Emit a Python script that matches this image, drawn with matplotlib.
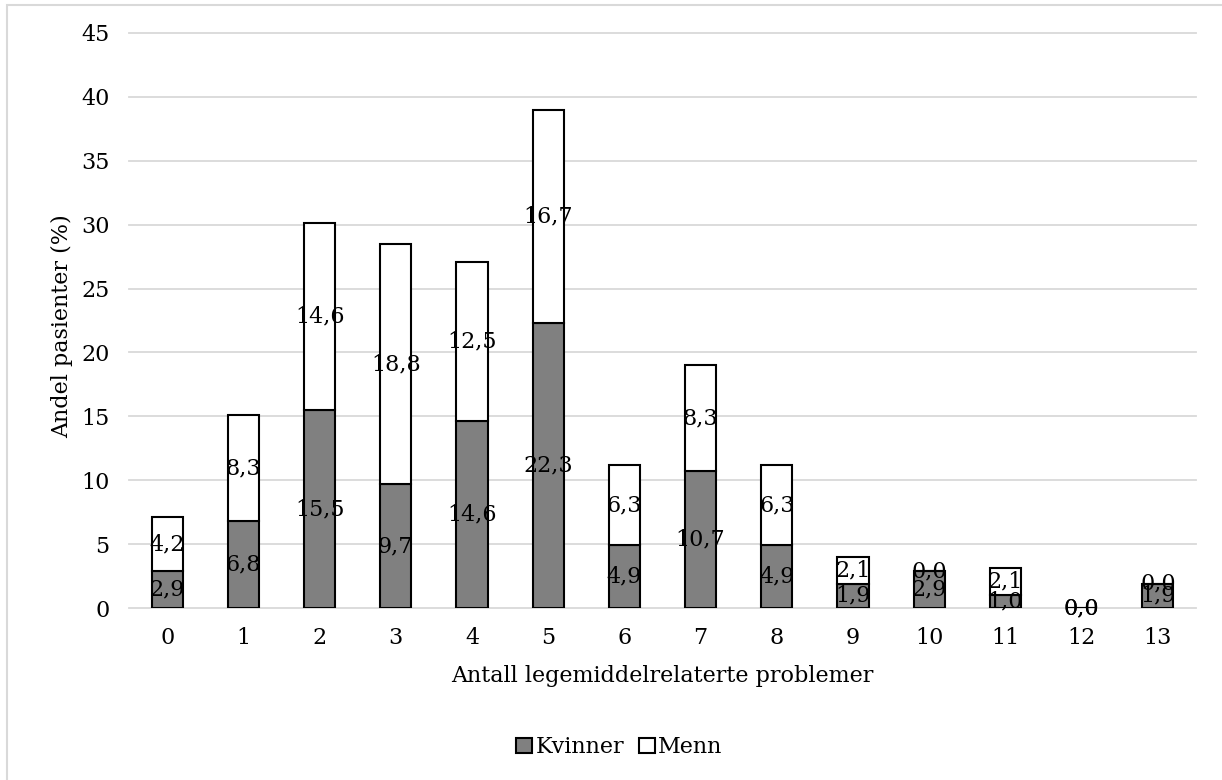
import matplotlib
matplotlib.use('Agg')
import matplotlib.pyplot as plt
import numpy as np
from matplotlib.patches import Rectangle

# Andel pasienter (%) per antall legemiddelrelaterte problemer
categories = ['0', '1', '2', '3', '4', '5', '6', '7', '8', '9', '10', '11', '12', '13']
kvinner = [2.9, 6.8, 15.5, 9.7, 14.6, 22.3, 4.9, 10.7, 4.9, 1.9, 2.9, 1.0, 0.0, 1.9]
menn = [4.2, 8.3, 14.6, 18.8, 12.5, 16.7, 6.3, 8.3, 6.3, 2.1, 0.0, 2.1, 0.0, 0.0]
y_ticks = [0, 5, 10, 15, 20, 25, 30, 35, 40, 45]

plt.rcParams['font.family'] = ['DejaVu Serif']
fs = 16

fig = plt.figure(figsize=(12.22, 7.8), dpi=100)
ax = fig.add_axes([0.1056, 0.2205, 0.8731, 0.7372])

x = np.arange(len(categories))
width = 0.41
b1 = ax.bar(x, kvinner, width, color='#808080', edgecolor='black',
            linewidth=1.5, label='Kvinner', zorder=3)
b2 = ax.bar(x, menn, width, bottom=kvinner, color='white',
            edgecolor='black', linewidth=1.5, label='Menn', zorder=3)

def fmt(v):
    return f'{v:.1f}'.replace('.', ',')

# value labels centred in each segment
for i in x:
    ax.text(i, kvinner[i] / 2, fmt(kvinner[i]), ha='center', va='center',
            fontsize=fs, zorder=4)
    ax.text(i, kvinner[i] + menn[i] / 2, fmt(menn[i]), ha='center',
            va='center', fontsize=fs, zorder=4)

ax.set_xlim(-0.5, len(categories) - 0.5)
ax.set_ylim(0, 45)
ax.set_yticks(y_ticks)
ax.set_xticks(x)
ax.set_xticklabels(categories)
ax.tick_params(axis='both', length=0, labelsize=fs)
ax.tick_params(axis='y', pad=14)
ax.tick_params(axis='x', pad=14)
ax.grid(axis='y', color='#d9d9d9', linewidth=1.3, zorder=0)
for line in ax.get_ygridlines():
    line.set_clip_on(False)
for s in ax.spines.values():
    s.set_visible(False)

ax.set_xlabel('Antall legemiddelrelaterte problemer', fontsize=fs, va='center')
ax.xaxis.set_label_coords(0.5, -0.118)
ax.set_ylabel('Andel pasienter (%)', fontsize=fs, va='center')
ax.yaxis.set_label_coords(-0.063, 0.49)

leg = fig.legend(handles=[b1, b2], loc='center', bbox_to_anchor=(0.507, 0.042),
                 ncol=2, frameon=False, fontsize=fs, handlelength=0.7,
                 handleheight=0.7, handletextpad=0.15, columnspacing=0.7)

# outer chart border
fig.patches.append(Rectangle((7 / 1222, -0.1), 1.2, 1 - 5 / 780 + 0.1,
                             transform=fig.transFigure, fill=False,
                             edgecolor='#d9d9d9', linewidth=1.5))

fig.savefig('out.png', dpi=100)
